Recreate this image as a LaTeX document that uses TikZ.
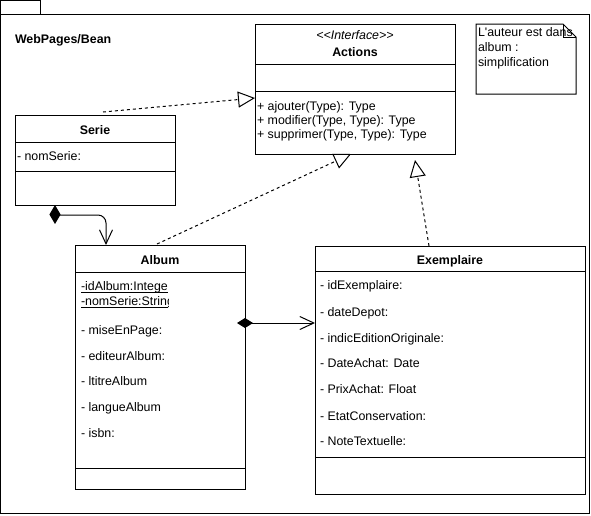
\documentclass[tikz,border=0pt]{standalone}
\usepackage{fontspec}
\newfontfamily\umlfont{Liberation Sans}
\usetikzlibrary{arrows.meta}
\begin{document}
\begin{tikzpicture}[x=1pt,y=-1pt,
  every node/.style={font=\umlfont\fontsize{12.4}{14}\selectfont, inner sep=0pt, outer sep=0pt},
  box/.style={draw, line width=1pt, fill=white, anchor=north west},
  lt/.style={anchor=base west},
  ct/.style={anchor=base},
  ln/.style={line width=1pt},
  real/.style={line width=1pt, dash pattern=on 3pt off 3pt, -{Triangle[open, length=17pt, width=16pt, fill=white]}},
  comp/.style={line width=1pt, -{Straight Barb[length=14pt, width=13pt]}},
]
\useasboundingbox (0,0) rectangle (591,515);
% package frame
\draw[ln] (0.5,0.5) rectangle (40,14);
\draw[ln] (0.5,14) rectangle (589,513.5);
\node[lt] (pkg) at (15,43) {\bfseries WebPages/Bean};

% Actions interface
\node[box, minimum width=200pt, minimum height=130pt] (actions) at (255,24) {};
\draw[ln] (actions.west |- 0,64) -- (actions.east |- 0,64);
\draw[ln] (actions.west |- 0,91) -- (actions.east |- 0,91);
\node[ct] (stereo) at (355,39) {\itshape <{}<Interface>{}>};
\node[ct] (actT) at (355,56) {\bfseries Actions};
\node[lt] (m1) at (257,110) {+ ajouter(Type): Type};
\node[lt] (m2) at (257,124) {+ modifier(Type, Type): Type};
\node[lt] (m3) at (257,138) {+ supprimer(Type, Type): Type};

% note
\draw[ln, fill=white] (476,24) -- (563,24) -- (576,37) -- (576,94) -- (476,94) -- cycle;
\draw[ln] (563,24) -- (563,37) -- (576,37);
\node[lt] (n1) at (478,36) {L'auteur est dans};
\node[lt] (n2) at (478,51) {album :};
\node[lt] (n3) at (478,66) {simplification};

% Serie
\node[box, minimum width=160pt, minimum height=90.5pt] (serie) at (15,115) {};
\draw[ln] (serie.west |- 0,142) -- (serie.east |- 0,142);
\draw[ln] (serie.west |- 0,171) -- (serie.east |- 0,171);
\node[ct] (serieT) at (95,134) {\bfseries Serie};
\node[lt] (s1) at (17,160) {- nomSerie:};

% Album
\node[box, minimum width=170pt, minimum height=244pt] (album) at (75,245) {};
\draw[ln] (album.west |- 0,272) -- (album.east |- 0,272);
\draw[ln] (album.west |- 0,468) -- (album.east |- 0,468);
\node[ct] (albumT) at (160,264) {\bfseries Album};
\begin{scope}
\clip (76,276) rectangle (168,312);
\node[lt] (a1) at (81,290) {-idAlbum:Intege};
\node[lt] (a2) at (81,305) {-nomSerie:String};
\draw[ln] (81,292.5) -- (168,292.5);
\draw[ln] (81,307.5) -- (168,307.5);
\end{scope}
\node[lt] (a3) at (81,334) {- miseEnPage:};
\node[lt] (a4) at (81,360) {- editeurAlbum:};
\node[lt] (a5) at (81,385) {- ltitreAlbum};
\node[lt] (a6) at (81,411) {- langueAlbum};
\node[lt] (a7) at (81,437) {- isbn:};

% Exemplaire
\node[box, minimum width=270pt, minimum height=248pt] (exemplaire) at (315,246) {};
\draw[ln] (exemplaire.west |- 0,271) -- (exemplaire.east |- 0,271);
\draw[ln] (exemplaire.west |- 0,457) -- (exemplaire.east |- 0,457);
\node[ct] (exT) at (450,264) {\bfseries Exemplaire};
\node[lt] (e1) at (320,289) {- idExemplaire:};
\node[lt] (e2) at (320,316) {- dateDepot:};
\node[lt] (e3) at (320,342) {- indicEditionOriginale:};
\node[lt] (e4) at (320,367) {- DateAchat: Date};
\node[lt] (e5) at (320,393) {- PrixAchat: Float};
\node[lt] (e6) at (320,420) {- EtatConservation:};
\node[lt] (e7) at (320,445) {- NoteTextuelle:};

% composition Serie -> Album
\draw[ln, fill=black] (55,206) -- (60,214.5) -- (55,223) -- (50,214.5) -- cycle;
\coordinate (sd) at (58,215);
\draw[comp, rounded corners=8pt] (sd) -- (106,215) -- (album.north -| 106,0);

% composition Album -> Exemplaire
\coordinate (ad) at (237,323);
\draw[line width=1pt, {Diamond[length=16pt,width=10pt]}-{Straight Barb[length=14pt,width=13pt]}] (ad) -- (exemplaire.west |- 0,323);

% realizations
\coordinate (r1) at (103,112);
\draw[real] (r1) -- (actions.west |- 0,98);
\coordinate (r2) at (157,244);
\draw[real] (r2) -- (actions.south -| 351,0);
\coordinate (r3) at (429,246);
\coordinate (r3e) at (415,160);
\draw[real] (r3) -- (r3e);
\end{tikzpicture}
\end{document}
